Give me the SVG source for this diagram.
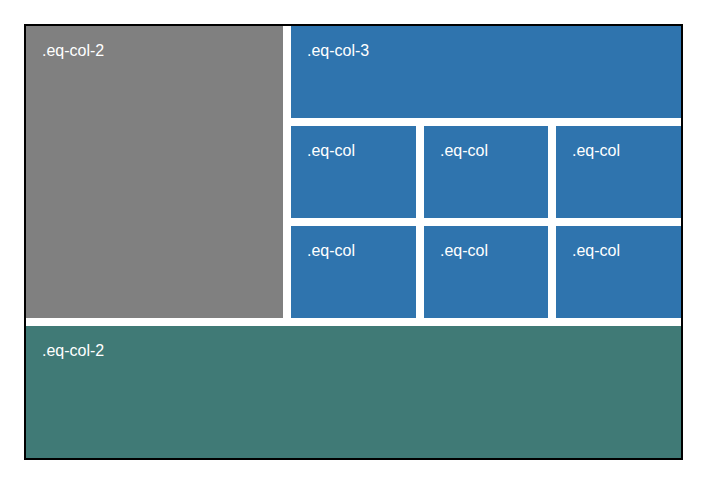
<svg xmlns="http://www.w3.org/2000/svg" width="709" height="483" viewBox="0 0 709 483">
<style>
.lbl{font-family:"Liberation Sans",Arial,sans-serif;font-size:16px;fill:#ffffff}
.blue{fill:#2f74ae}
</style>
<rect x="0" y="0" width="709" height="483" fill="#ffffff"/>
<rect x="25" y="25" width="657" height="434" fill="#ffffff" stroke="#000000" stroke-width="2"/>
<g id="gray-col2"><rect x="26" y="26" width="257" height="292" fill="#808080"/><text class="lbl" x="42" y="56">.eq-col-2</text></g>
<g id="blue-col3"><rect class="blue" x="291" y="26" width="390" height="92"/><text class="lbl" x="307" y="56">.eq-col-3</text></g>
<g id="r1c1"><rect class="blue" x="291" y="126" width="125" height="92"/><text class="lbl" x="307" y="156">.eq-col</text></g>
<g id="r1c2"><rect class="blue" x="424" y="126" width="124" height="92"/><text class="lbl" x="440" y="156">.eq-col</text></g>
<g id="r1c3"><rect class="blue" x="556" y="126" width="125" height="92"/><text class="lbl" x="572" y="156">.eq-col</text></g>
<g id="r2c1"><rect class="blue" x="291" y="226" width="125" height="92"/><text class="lbl" x="307" y="256">.eq-col</text></g>
<g id="r2c2"><rect class="blue" x="424" y="226" width="124" height="92"/><text class="lbl" x="440" y="256">.eq-col</text></g>
<g id="r2c3"><rect class="blue" x="556" y="226" width="125" height="92"/><text class="lbl" x="572" y="256">.eq-col</text></g>
<g id="green-col2"><rect x="26" y="326" width="655" height="132" fill="#407a76"/><text class="lbl" x="42" y="356">.eq-col-2</text></g>
<g id="connectors"></g>
</svg>
